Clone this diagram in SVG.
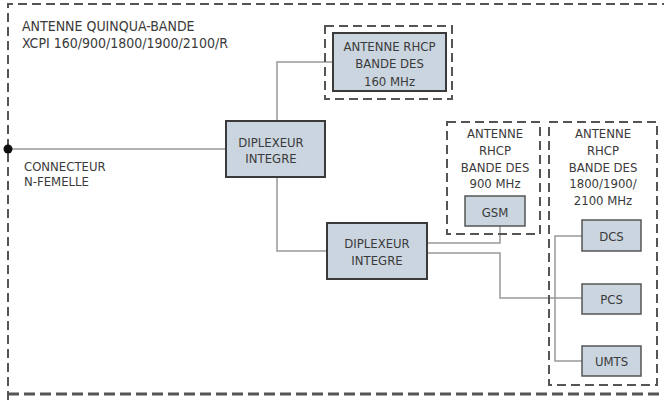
<svg xmlns="http://www.w3.org/2000/svg" width="664" height="401" viewBox="0 0 664 401">
<style>
text{font-family:"DejaVu Sans Condensed","Liberation Sans",sans-serif;font-size:13px;fill:#3a3a3a}
.c{text-anchor:middle}
.big{font-size:14px}
.box{fill:#cbd5df;stroke:#3a3a3a;stroke-width:2}
.sbox{fill:#cbd5df;stroke:#555;stroke-width:1.5}
.dash{fill:none;stroke:#555;stroke-width:2;stroke-dasharray:9,5}
.wire{fill:none;stroke:#999;stroke-width:1.5}
</style>
<rect width="664" height="401" fill="#fff"/>
<g id="outer">
<path class="dash" d="M8,400 V4 H664"/>
<path d="M8,394 H664" fill="none" stroke="#555" stroke-width="3" stroke-dasharray="11,5"/>
<text class="big" x="22" y="31">ANTENNE QUINQUA-BANDE</text>
<text class="big" x="22" y="48">XCPI 160/900/1800/1900/2100/R</text>
</g>
<g id="connectors">
<path class="wire" d="M8,149 H226"/>
<path class="wire" d="M277,121 V62 H333"/>
<path class="wire" d="M277,177 V251 H327"/>
<path class="wire" d="M427,243 H500 V226"/>
<path class="wire" d="M427,253 H500 V298 H582"/>
<path class="wire" d="M582,236 H555 V361 H582"/>
</g>
<g id="connecteur">
<circle cx="8" cy="149" r="4.5" fill="#111"/>
<text x="24" y="171">CONNECTEUR</text>
<text x="24" y="186">N-FEMELLE</text>
</g>
<g id="diplexeur1">
<rect class="box" x="226" y="121" width="99" height="56"/>
<text class="c" x="271" y="147">DIPLEXEUR</text>
<text class="c" x="271" y="163">INTEGRE</text>
</g>
<g id="antenne160">
<rect class="dash" x="325" y="26" width="127" height="73"/>
<rect class="box" x="333" y="33" width="113" height="58"/>
<text class="c" x="389.5" y="51">ANTENNE RHCP</text>
<text class="c" x="389.5" y="68">BANDE DES</text>
<text class="c" x="389.5" y="86">160 MHz</text>
</g>
<g id="diplexeur2">
<rect class="box" x="327" y="223" width="100" height="56"/>
<text class="c" x="377" y="248">DIPLEXEUR</text>
<text class="c" x="377" y="265">INTEGRE</text>
</g>
<g id="antenne900">
<rect class="dash" x="447" y="122" width="93" height="112"/>
<text class="c" x="495" y="138">ANTENNE</text>
<text class="c" x="495" y="155">RHCP</text>
<text class="c" x="495" y="172">BANDE DES</text>
<text class="c" x="495" y="188">900 MHz</text>
</g>
<g id="gsm">
<rect class="sbox" x="465" y="196" width="60" height="30"/>
<text class="c" x="495" y="217">GSM</text>
</g>
<g id="antenne1800">
<rect class="dash" x="549" y="122" width="108" height="263"/>
<text class="c" x="603" y="138">ANTENNE</text>
<text class="c" x="603" y="155">RHCP</text>
<text class="c" x="603" y="172">BANDE DES</text>
<text class="c" x="603" y="188">1800/1900/</text>
<text class="c" x="603" y="205">2100 MHz</text>
</g>
<g id="dcs">
<rect class="sbox" x="582" y="220" width="59" height="31"/>
<text class="c" x="611.5" y="241">DCS</text>
</g>
<g id="pcs">
<rect class="sbox" x="582" y="284" width="59" height="30"/>
<text class="c" x="611.5" y="304">PCS</text>
</g>
<g id="umts">
<rect class="sbox" x="582" y="346" width="59" height="30"/>
<text class="c" x="611.5" y="366">UMTS</text>
</g>
</svg>
